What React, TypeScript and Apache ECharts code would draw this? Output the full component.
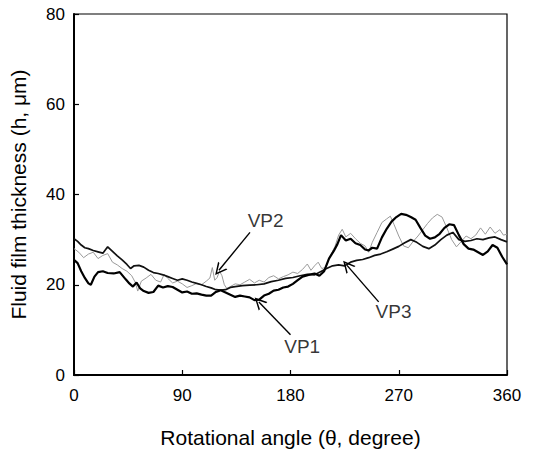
import React, { useEffect, useRef } from "react";
import * as echarts from "echarts";

// VP1: thick black curve
const anglesVP1 = [0,3,6,9,12,14,17,20,24,28,33,38,43,46,49,52,55,58,62,66,70,74,78,82,86,90,94,98,102,106,110,114,118,122,126,130,134,138,142,146,150,154,158,162,166,170,174,178,182,186,190,195,200,204,208,212,216,219,222,226,230,234,238,242,245,248,252,256,260,264,268,272,276,280,284,288,292,296,300,304,308,312,316,320,324,328,332,336,340,344,348,352,356,360];
const valuesVP1 = [25.5,24.8,23.0,21.5,20.3,20.0,21.8,22.8,23.0,22.6,22.5,22.8,21.2,20.3,19.6,20.5,19.2,18.6,18.2,18.4,19.8,19.4,19.7,19.5,18.9,18.3,18.5,18.0,18.1,17.8,17.6,17.6,18.4,18.8,18.3,17.8,17.3,17.6,17.4,17.2,16.6,16.7,17.6,18.0,18.7,18.9,19.4,19.6,20.2,21.0,21.8,22.2,22.5,22.0,23.0,25.8,27.5,29.0,31.0,29.8,30.2,29.2,28.8,27.8,27.6,28.2,28.0,30.5,32.4,34.0,35.0,35.7,35.5,35.0,34.4,32.6,30.9,30.2,30.5,31.3,32.6,33.4,33.2,31.0,29.0,28.0,27.8,27.2,26.6,27.4,28.8,28.2,26.2,24.5];

// VP2: thin grey curve
const anglesVP2 = [0,4,8,12,16,20,24,28,32,36,40,44,48,51,53,56,60,64,68,72,75,78,82,86,90,94,98,102,106,110,113,115,117,119,121,123,125,127,130,134,138,142,146,150,154,158,162,166,170,174,178,182,186,190,194,197,200,203,206,209,213,217,220,223,226,230,234,238,242,245,248,252,256,260,263,266,270,274,278,282,286,290,294,298,302,306,310,314,318,322,326,330,334,338,342,346,350,354,357,360];
const valuesVP2 = [28.0,27.2,26.0,26.8,27.2,25.8,26.5,26.9,25.0,24.4,23.6,23.0,22.0,20.5,18.6,20.8,21.5,22.3,21.0,20.6,22.3,21.4,20.4,20.8,20.2,19.4,19.8,20.3,20.0,20.8,21.5,23.8,21.0,21.6,23.0,22.0,20.0,19.2,19.6,20.2,20.0,20.6,21.2,20.4,21.0,20.6,21.6,22.0,21.3,21.8,22.2,22.8,22.5,23.4,24.6,23.2,24.2,25.0,23.6,23.8,26.4,28.5,31.0,32.3,30.6,31.4,30.2,29.2,28.6,27.2,29.4,31.6,33.8,34.6,35.2,33.4,30.8,28.6,28.2,29.6,30.8,32.2,33.6,34.8,35.6,35.0,32.6,30.0,28.4,29.6,30.8,30.2,31.0,32.6,31.2,32.8,31.4,32.2,31.0,31.2];

// VP3: medium black curve
const anglesVP3 = [0,3,6,9,12,16,20,24,28,32,36,40,44,47,50,54,58,62,66,70,74,78,82,86,90,94,98,102,106,110,114,118,122,126,130,134,140,146,152,158,164,170,176,182,188,194,200,205,210,215,220,225,230,235,240,245,250,255,260,265,270,275,280,285,290,295,300,305,310,315,320,325,330,335,340,345,350,355,360];
const valuesVP3 = [30.2,29.6,28.8,28.2,28.0,27.6,27.3,27.0,28.4,27.4,26.4,25.5,24.5,23.6,24.2,24.3,23.9,23.2,22.7,22.5,22.2,21.8,21.4,21.0,21.3,21.0,20.6,20.3,20.0,19.6,19.3,18.9,18.8,18.9,19.4,19.6,19.8,19.9,20.0,20.2,20.7,21.0,21.4,21.6,22.0,22.3,22.2,22.9,23.6,24.2,24.4,24.2,25.0,25.4,25.6,26.0,26.5,26.8,27.3,27.9,28.5,29.3,30.0,29.4,28.5,28.0,28.8,30.0,31.0,31.6,30.0,29.6,29.8,30.2,30.0,30.4,30.6,30.0,29.5];

const xTicks = [0, 90, 180, 270, 360];
const yTicks = [0, 20, 40, 60, 80];

// Annotations (data coordinates)
const annotationNames = ["VP1", "VP2", "VP3"];
const annotationLabelAt = [[189.7, 6.3], [159.3, 34.2], [265.7, 14.0]];
const annotationArrowFrom = [[180, 8.9], [146.3, 31.6], [253.3, 16.2]];
const annotationArrowTo = [[153.7, 16.2], [120.5, 23.2], [227, 24.3]];

const zip = (xs: number[], ys: number[]) => xs.map((x, i) => [x, ys[i]]);

const chevron = "path://M5,0 L10,12 L8.6,12 L5,3.2 L1.4,12 L0,12 Z";

export default function App() {
  const ref = useRef<HTMLDivElement>(null);
  useEffect(() => {
    if (!ref.current) return;
    const chart = echarts.init(ref.current, null, { renderer: "svg" });
    const font = "'Liberation Sans', Arial, Helvetica, sans-serif";
    chart.setOption({
      animation: false,
      backgroundColor: "#fff",
      textStyle: { fontFamily: font },
      grid: {
        left: 73,
        right: 28,
        top: 14,
        bottom: 76,
        show: true,
        borderColor: "#000",
        borderWidth: 1.2,
        backgroundColor: "transparent",
      },
      xAxis: {
        type: "value",
        min: xTicks[0],
        max: xTicks[xTicks.length - 1],
        interval: 90,
        name: "Rotational angle (θ, degree)",
        nameLocation: "middle",
        nameGap: 52,
        nameTextStyle: { fontSize: 21, color: "#000", fontFamily: font },
        axisLine: { show: true, lineStyle: { color: "#000", width: 2 } },
        axisTick: { show: true, inside: true, length: 5, lineStyle: { color: "#000", width: 1.2 } },
        axisLabel: { fontSize: 17, color: "#000", margin: 12, fontFamily: font },
        splitLine: { show: false },
      },
      yAxis: {
        type: "value",
        min: yTicks[0],
        max: yTicks[yTicks.length - 1],
        interval: 20,
        name: "Fluid film thickness (h, μm)",
        nameLocation: "middle",
        nameGap: 45,
        nameTextStyle: { fontSize: 21, color: "#000", fontFamily: font },
        axisLine: { show: true, lineStyle: { color: "#000", width: 2 } },
        axisTick: { show: true, inside: true, length: 5, lineStyle: { color: "#000", width: 1.2 } },
        axisLabel: { fontSize: 17, color: "#000", margin: 9, fontFamily: font },
        splitLine: { show: false },
      },
      series: [
        {
          name: "VP2",
          type: "line",
          data: zip(anglesVP2, valuesVP2),
          showSymbol: false,
          lineStyle: { color: "#9a9a9a", width: 1 },
          z: 2,
        },
        {
          name: "VP3",
          type: "line",
          data: zip(anglesVP3, valuesVP3),
          showSymbol: false,
          lineStyle: { color: "#111", width: 1.7 },
          z: 3,
        },
        {
          name: "VP1",
          type: "line",
          data: zip(anglesVP1, valuesVP1),
          showSymbol: false,
          lineStyle: { color: "#000", width: 2.2 },
          z: 4,
        },
        {
          name: "labels",
          type: "scatter",
          symbolSize: 0,
          silent: true,
          z: 5,
          data: annotationNames.map((n, i) => ({ name: n, value: annotationLabelAt[i] })),
          label: {
            show: true,
            position: "inside",
            formatter: "{b}",
            fontSize: 19,
            color: "#000",
            fontFamily: font,
          },
          markLine: {
            silent: true,
            symbol: ["none", chevron],
            symbolSize: 12,
            lineStyle: { color: "#000", width: 1.4, type: "solid" },
            label: { show: false },
            data: annotationArrowFrom.map((f, i) => [
              { coord: f },
              { coord: annotationArrowTo[i] },
            ]),
          },
        },
      ],
    });
    return () => chart.dispose();
  }, []);
  return <div ref={ref} style={{ width: 535, height: 453, position: "absolute", left: 0, top: 0 }} />;
}
